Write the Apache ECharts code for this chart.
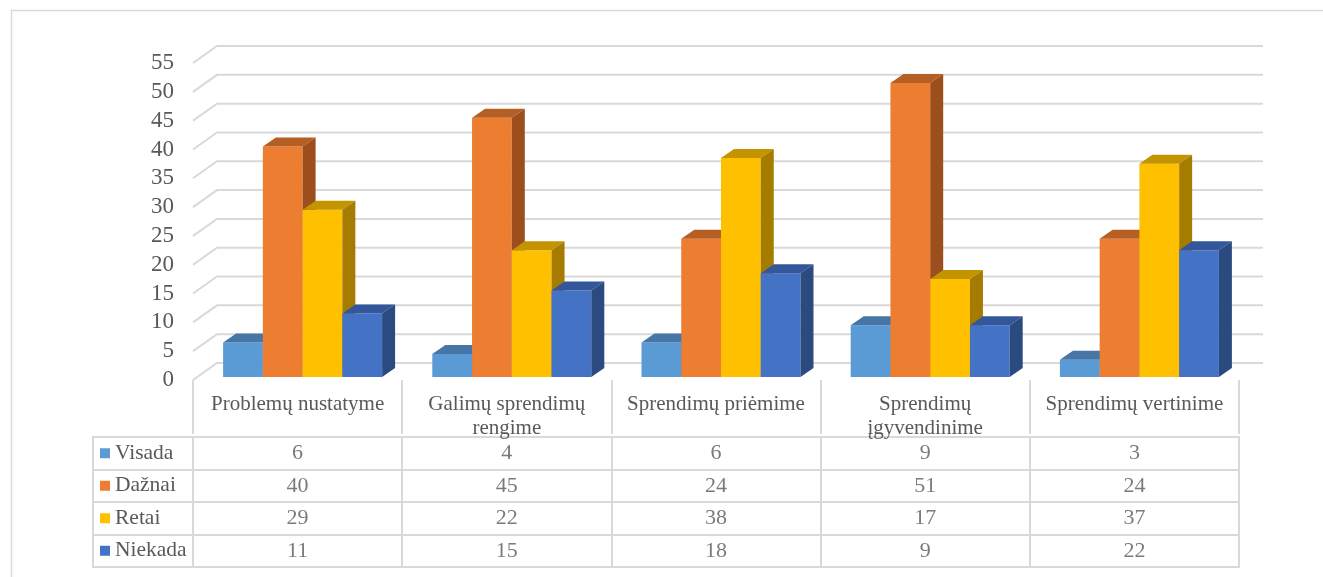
<!DOCTYPE html>
<html><head><meta charset="utf-8">
<script src="https://cdn.jsdelivr.net/npm/echarts@6/dist/echarts.min.js"></script>
<style>html,body{margin:0;padding:0;background:#fff}#c{width:1323px;height:577px}</style>
</head><body><div id="c"></div>
<script>
const categories = ['Problemų nustatyme', 'Galimų sprendimų\nrengime', 'Sprendimų priėmime', 'Sprendimų\nįgyvendinime', 'Sprendimų vertinime'];
const seriesNames = ['Visada', 'Dažnai', 'Retai', 'Niekada'];
const visada = [6, 4, 6, 9, 3];
const daznai = [40, 45, 24, 51, 24];
const retai = [29, 22, 38, 17, 37];
const niekada = [11, 15, 18, 9, 22];
const yTicks = [0, 5, 10, 15, 20, 25, 30, 35, 40, 45, 50, 55];

const values = [visada, daznai, retai, niekada];
const faceColors = ['#5B9BD5', '#ED7D31', '#FFC000', '#4472C4'];
const topColors = ['#4676A6', '#B65F25', '#C49300', '#33579A'];
const sideColors = ['#3E6A94', '#9C4E1D', '#A67C00', '#2A4A80'];

const FONT = 'Liberation Serif';
const TXT = '#595959';
const GRID = '#d9d9d9';

const chart = echarts.init(document.getElementById('c'), null, { renderer: 'canvas' });

function barRender(s) {
  return function (params, api) {
    const ci = api.value(0), v = api.value(1);
    const top = api.coord([ci, v]);
    const base = api.coord([ci, 0]);
    const band = api.size([1, 0])[0];
    const w = band * 0.19;
    const x0 = top[0] - 2 * w + s * w + 5;
    const x1 = x0 + w;
    const yt = top[1] - 3, yb = base[1] - 3;
    const dx = 13, dy = -9;
    return {
      type: 'group', children: [
        { type: 'rect', shape: { x: x0, y: yt, width: w, height: yb - yt }, style: { fill: faceColors[s] } },
        { type: 'polygon', shape: { points: [[x0, yt], [x1, yt], [x1 + dx, yt + dy], [x0 + dx, yt + dy]] }, style: { fill: topColors[s] } },
        { type: 'polygon', shape: { points: [[x1, yt], [x1 + dx, yt + dy], [x1 + dx, yb + dy], [x1, yb]] }, style: { fill: sideColors[s] } }
      ]
    };
  };
}

const series = [];
series.push({
  type: 'custom', xAxisIndex: 0, yAxisIndex: 0, silent: true,
  data: yTicks.map(v => [0, v]),
  renderItem: function (params, api) {
    const cs = params.coordSys;
    const y = api.coord([0, api.value(1)])[1];
    return {
      type: 'polyline',
      shape: { points: [[cs.x, y], [cs.x + 24, y - 17], [cs.x + cs.width + 24, y - 17]] },
      style: { stroke: GRID, lineWidth: 2, fill: null }
    };
  }
});
values.forEach((arr, s) => {
  series.push({
    type: 'custom', name: seriesNames[s], xAxisIndex: 0, yAxisIndex: 0,
    data: arr.map((v, i) => [i, v]),
    renderItem: barRender(s)
  });
});
const tableData = [];
values.forEach((arr, s) => arr.forEach((v, i) => tableData.push([i, s, v])));
series.push({
  type: 'scatter', xAxisIndex: 1, yAxisIndex: 1, symbolSize: 1, silent: true,
  itemStyle: { color: 'rgba(0,0,0,0)' },
  label: { show: true, position: 'inside', formatter: p => String(p.value[2]), fontFamily: FONT, fontSize: 22, color: TXT },
  data: tableData
});

const rich = { t: { fontFamily: FONT, fontSize: 21.5, color: TXT, padding: [0, 0, 0, 5] } };
faceColors.forEach((c, i) => { rich['k' + i] = { width: 10, height: 10, backgroundColor: c }; });

const gridBox = { show: true, borderColor: GRID, borderWidth: 2, backgroundColor: 'rgba(0,0,0,0)' };

const option = {
  animation: false,
  backgroundColor: '#fff',
  textStyle: { fontFamily: FONT },
  grid: [
    { left: 193, top: 63, width: 1046, height: 317 },
    Object.assign({ left: 193, top: 437, width: 1046, height: 130 }, gridBox),
    Object.assign({ left: 93, top: 437, width: 100, height: 130 }, gridBox)
  ],
  xAxis: [
    {
      gridIndex: 0, type: 'category', data: categories, offset: 3,
      axisLine: { show: false },
      axisTick: { show: true, length: 54, lineStyle: { color: GRID, width: 2 } },
      axisLabel: { interval: 0, margin: 9, fontFamily: FONT, fontSize: 21, lineHeight: 24, color: TXT },
      splitLine: { show: false }
    },
    {
      gridIndex: 1, type: 'category', data: categories,
      axisLine: { show: false }, axisTick: { show: false }, axisLabel: { show: false },
      splitLine: { show: true, lineStyle: { color: GRID, width: 2 } }
    },
    {
      gridIndex: 2, type: 'value', show: false
    }
  ],
  yAxis: [
    {
      gridIndex: 0, type: 'value', min: 0, max: 55, interval: 5,
      axisLine: { show: false }, axisTick: { show: false },
      axisLabel: { margin: 19, fontFamily: FONT, fontSize: 23, color: TXT },
      splitLine: { show: false }
    },
    {
      gridIndex: 1, type: 'category', data: seriesNames, inverse: true,
      axisLine: { show: false }, axisTick: { show: false }, axisLabel: { show: false },
      splitLine: { show: true, lineStyle: { color: GRID, width: 2 } }
    },
    {
      gridIndex: 2, type: 'category', data: seriesNames, inverse: true,
      axisLine: { show: false }, axisTick: { show: false },
      axisLabel: {
        inside: true, align: 'left', margin: 7,
        formatter: (val, idx) => '{k' + idx + '|}{t|' + val + '}',
        rich: rich
      },
      splitLine: { show: true, lineStyle: { color: GRID, width: 2 } }
    }
  ],
  graphic: [
    { type: 'rect', left: 9, top: 8, shape: { width: 1400, height: 700 }, style: { fill: null, stroke: GRID, lineWidth: 1.5 }, silent: true }
  ],
  series: series
};
chart.setOption(option);
</script>
</body></html>
